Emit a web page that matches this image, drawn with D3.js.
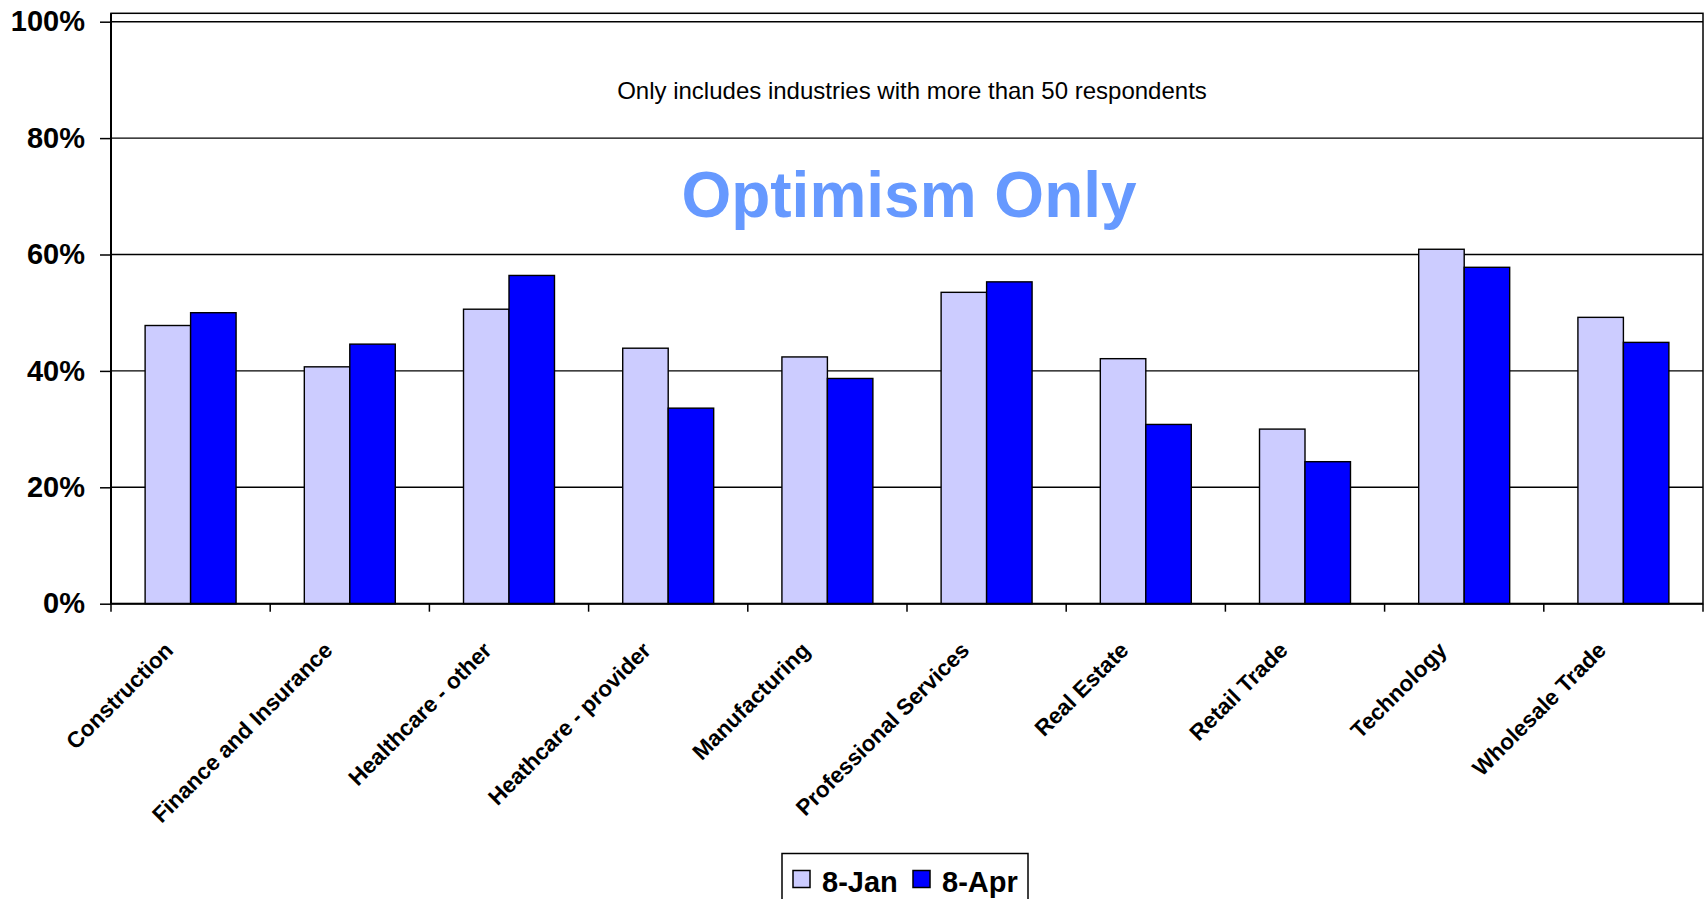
<!DOCTYPE html>
<html>
<head>
<meta charset="utf-8">
<script src="https://cdn.jsdelivr.net/npm/d3@7"></script>
<style>
  html, body { margin: 0; padding: 0; background: #fff; }
  svg { display: block; font-family: "Liberation Sans", Arial, sans-serif; }
</style>
</head>
<body>
<svg id="chart" width="1708" height="899"></svg>
<script>
// Industries (only those with more than 50 respondents)
const categories = [
  "Construction", "Finance and Insurance", "Healthcare - other",
  "Heathcare - provider", "Manufacturing", "Professional Services",
  "Real Estate", "Retail Trade", "Technology", "Wholesale Trade"
];
const seriesNames = ["8-Jan", "8-Apr"];
// Share of optimistic respondents, percent
const jan08 = [47.8, 40.7, 50.6, 43.9, 42.4, 53.5, 42.1, 30.0, 60.9, 49.2];
const apr08 = [50.0, 44.6, 56.4, 33.6, 38.7, 55.3, 30.8, 24.4, 57.8, 44.9];
const yTicks = [0, 20, 40, 60, 80, 100];

const seriesValues = { "8-Jan": jan08, "8-Apr": apr08 };
const colors = { "8-Jan": "#CCCCFF", "8-Apr": "#0000FF" };

const svg = d3.select("#chart");
const plot = { left: 111, right: 1703, top: 13.3, bottom: 603.7 };

const x0 = d3.scaleBand().domain(categories).range([plot.left, plot.right]).padding(0);
const x1 = d3.scaleBand().domain(seriesNames).range([0, x0.bandwidth()])
  .paddingInner(0).paddingOuter(0.75);
const y = d3.scaleLinear().domain([0, 100]).range([plot.bottom, 21.7]);

// Plot frame
svg.append("rect")
  .attr("x", plot.left).attr("y", plot.top)
  .attr("width", plot.right - plot.left).attr("height", plot.bottom - plot.top)
  .attr("fill", "none").attr("stroke", "#000").attr("stroke-width", 1.5);

// Horizontal gridlines
svg.append("g").selectAll("line").data(yTicks.filter(d => d > 0)).join("line")
  .attr("x1", plot.left).attr("x2", plot.right)
  .attr("y1", d => y(d)).attr("y2", d => y(d))
  .attr("stroke", "#000").attr("stroke-width", 1.4);

// Subtitle and title
svg.append("text")
  .attr("x", (plot.left + plot.right) / 2 + 5).attr("y", 99)
  .attr("text-anchor", "middle").attr("font-size", 24).attr("fill", "#000")
  .text("Only includes industries with more than 50 respondents");
svg.append("text")
  .attr("x", (plot.left + plot.right) / 2 + 2).attr("y", 217)
  .attr("text-anchor", "middle").attr("font-size", 64).attr("font-weight", "bold")
  .attr("fill", "#6699FF")
  .text("Optimism Only");

// Bars
const groups = svg.append("g").selectAll("g").data(categories).join("g")
  .attr("transform", d => `translate(${x0(d)},0)`);
groups.selectAll("rect")
  .data((c, i) => seriesNames.map(s => ({ s, v: seriesValues[s][i] })))
  .join("rect")
  .attr("x", d => x1(d.s)).attr("width", x1.bandwidth())
  .attr("y", d => y(d.v)).attr("height", d => y(0) - y(d.v))
  .attr("fill", d => colors[d.s]).attr("stroke", "#000").attr("stroke-width", 1.4);

// Y axis
const yAxis = svg.append("g").attr("transform", `translate(${plot.left},0)`)
  .call(d3.axisLeft(y).tickValues(yTicks).tickFormat(d => d + "%").tickSize(11).tickPadding(15));
yAxis.select(".domain").attr("stroke", "#000").attr("stroke-width", 2)
  .attr("d", `M0,${plot.top}V${plot.bottom}`);
yAxis.selectAll(".tick line").attr("stroke", "#000").attr("stroke-width", 1.5);
yAxis.selectAll(".tick text")
  .attr("font-size", 29).attr("font-weight", "bold").attr("fill", "#000")
  .attr("font-family", "'Liberation Sans', Arial, sans-serif");

// X axis line with ticks at category boundaries
const xg = svg.append("g");
xg.append("line")
  .attr("x1", plot.left).attr("x2", plot.right)
  .attr("y1", plot.bottom).attr("y2", plot.bottom)
  .attr("stroke", "#000").attr("stroke-width", 2);
const boundaries = categories.map(c => x0(c)).concat([x0.range()[1]]);
xg.selectAll("line.tick").data(boundaries).join("line")
  .attr("class", "tick")
  .attr("x1", d => d).attr("x2", d => d)
  .attr("y1", plot.bottom).attr("y2", plot.bottom + 8)
  .attr("stroke", "#000").attr("stroke-width", 1.5);

// Rotated category labels
xg.selectAll("text").data(categories).join("text")
  .attr("transform", d => `translate(${x0(d) + x0.bandwidth() / 2 - 16},${plot.bottom + 48}) rotate(-45)`)
  .attr("text-anchor", "end")
  .attr("font-size", 22.5).attr("font-weight", "bold").attr("fill", "#000")
  .text(d => d);

// Legend
const legend = svg.append("g");
legend.append("rect")
  .attr("x", 782).attr("y", 853.5).attr("width", 246).attr("height", 60)
  .attr("fill", "#fff").attr("stroke", "#000").attr("stroke-width", 1.5);
const legX = { "8-Jan": 793, "8-Apr": 913 };
const items = legend.selectAll("g").data(seriesNames).join("g")
  .attr("transform", d => `translate(${legX[d]},0)`);
items.append("rect")
  .attr("x", 0).attr("y", 870.5).attr("width", 17).attr("height", 17)
  .attr("fill", d => colors[d]).attr("stroke", "#000").attr("stroke-width", 1.5);
items.append("text")
  .attr("x", 29).attr("y", 891.5)
  .attr("font-size", 29).attr("font-weight", "bold").attr("fill", "#000")
  .text(d => d);
</script>
</body>
</html>
